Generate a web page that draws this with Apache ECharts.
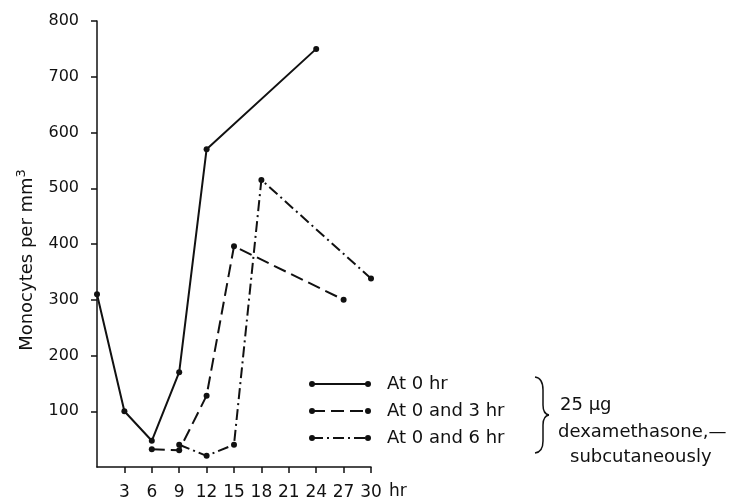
<!DOCTYPE html>
<html>
<head>
<meta charset="utf-8">
<script src="https://cdn.jsdelivr.net/npm/echarts@6/dist/echarts.min.js"></script>
<style>
  html, body { margin: 0; padding: 0; background: #fff; }
  #main { width: 729px; height: 501px; }
</style>
</head>
<body>
<div id="main"></div>
<script>
  // hours after injection and monocyte counts
  var hours0 = [0, 3, 6, 9, 12, 24];
  var counts0 = [310, 100, 47, 170, 570, 750];
  var hours03 = [6, 9, 12, 15, 27];
  var counts03 = [32, 30, 128, 396, 300];
  var hours06 = [9, 12, 15, 18, 30];
  var counts06 = [40, 20, 40, 515, 338];

  var xTicks = [3, 6, 9, 12, 15, 18, 21, 24, 27, 30];
  var yTicks = [100, 200, 300, 400, 500, 600, 700, 800];

  var seriesNames = ['At 0 hr', 'At 0 and 3 hr', 'At 0 and 6 hr'];

  function pairs(xs, ys) {
    return xs.map(function (x, i) { return [x, ys[i]]; });
  }

  var ink = '#111';
  var font = 'DejaVu Sans';
  var dashes = ['solid', [13, 6], [11, 4, 2, 4]];

  function label(x, y, text, size) {
    return {
      type: 'text', x: x, y: y,
      style: { text: text, fill: ink, font: (size || 18) + 'px ' + font, verticalAlign: 'middle' }
    };
  }

  // hand drawn legend, lines with a dot at both ends
  var legendY = [384, 411, 438];
  var graphics = [];
  legendY.forEach(function (y, i) {
    graphics.push({
      type: 'line', shape: { x1: 312, y1: y, x2: 368, y2: y },
      style: { stroke: ink, lineWidth: 2, lineDash: dashes[i] === 'solid' ? null : dashes[i] }
    });
    graphics.push({ type: 'circle', shape: { cx: 312, cy: y, r: 3 }, style: { fill: ink } });
    graphics.push({ type: 'circle', shape: { cx: 368, cy: y, r: 3 }, style: { fill: ink } });
    graphics.push(label(387, y, seriesNames[i]));
  });
  // brace
  var brace = { stroke: ink, fill: null, lineWidth: 1.5 };
  graphics.push({ type: 'bezierCurve', shape: { x1: 535, y1: 377, x2: 543, y2: 390, cpx1: 543, cpy1: 378 }, style: brace });
  graphics.push({ type: 'line', shape: { x1: 543, y1: 390, x2: 543, y2: 405 }, style: brace });
  graphics.push({ type: 'bezierCurve', shape: { x1: 543, y1: 405, x2: 549, y2: 415, cpx1: 543, cpy1: 414 }, style: brace });
  graphics.push({ type: 'bezierCurve', shape: { x1: 549, y1: 415, x2: 543, y2: 425, cpx1: 543, cpy1: 416 }, style: brace });
  graphics.push({ type: 'line', shape: { x1: 543, y1: 425, x2: 543, y2: 441 }, style: brace });
  graphics.push({ type: 'bezierCurve', shape: { x1: 543, y1: 441, x2: 535, y2: 453, cpx1: 543, cpy1: 452 }, style: brace });

  graphics.push(label(560, 405, '25 µg'));
  graphics.push(label(558, 432, 'dexamethasone,—'));
  graphics.push(label(570, 457, 'subcutaneously'));
  // unit after last tick
  graphics.push(label(389, 492, 'hr', 17));

  var myChart = echarts.init(document.getElementById('main'));

  myChart.setOption({
    backgroundColor: '#fff',
    animation: false,
    grid: { left: 97, right: 358, top: 21, bottom: 33 },
    xAxis: {
      type: 'value',
      min: 0,
      max: 30,
      splitLine: { show: false },
      axisLine: { show: true, lineStyle: { color: ink, width: 1.5 } },
      axisTick: { show: true, length: 6, customValues: xTicks, lineStyle: { color: ink, width: 1.5 } },
      axisLabel: { customValues: xTicks, color: ink, fontFamily: font, fontSize: 17, margin: 17 }
    },
    yAxis: {
      type: 'value',
      min: 0,
      max: 800,
      splitLine: { show: false },
      axisLine: { show: true, lineStyle: { color: ink, width: 1.5 } },
      axisTick: { show: true, length: 6, customValues: yTicks, lineStyle: { color: ink, width: 1.5 } },
      axisLabel: { customValues: yTicks, color: ink, fontFamily: font, fontSize: 16, margin: 18 },
      name: 'Monocytes per mm{sup|3}',
      nameLocation: 'middle',
      nameGap: 57,
      nameTextStyle: {
        color: ink, fontFamily: font, fontSize: 18,
        padding: [0, 32, 0, 0],
        rich: { sup: { fontSize: 13, verticalAlign: 'top', padding: [0, 0, 12, 0], fontFamily: font, color: ink } }
      }
    },
    series: [
      { name: seriesNames[0], data: pairs(hours0, counts0), lineStyle: { type: dashes[0] } },
      { name: seriesNames[1], data: pairs(hours03, counts03), lineStyle: { type: dashes[1] } },
      { name: seriesNames[2], data: pairs(hours06, counts06), lineStyle: { type: dashes[2] } }
    ].map(function (s) {
      s.type = 'line';
      s.symbol = 'circle';
      s.symbolSize = 6;
      s.itemStyle = { color: ink };
      s.lineStyle.color = ink;
      s.lineStyle.width = 2;
      return s;
    }),
    graphic: graphics
  });
</script>
</body>
</html>
